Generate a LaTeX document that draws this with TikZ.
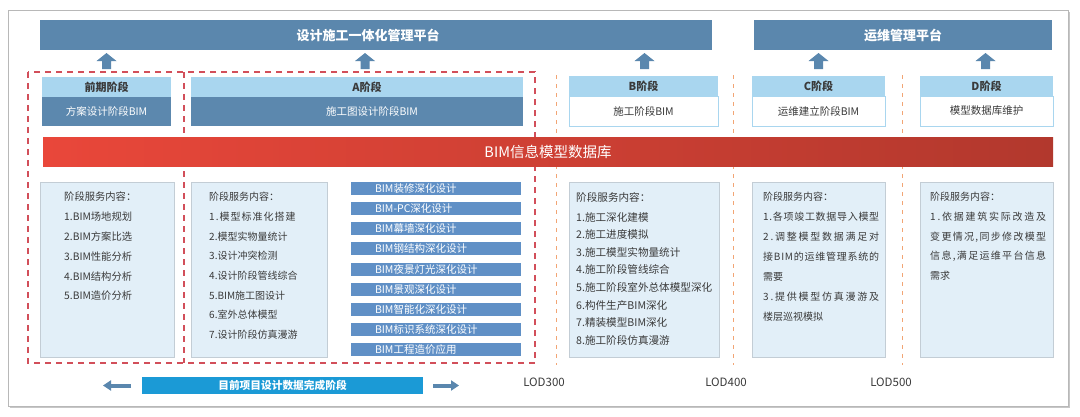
\documentclass[tikz,border=0pt]{standalone}
\usepackage{fontspec}
\setmainfont{Noto Sans CJK SC}
\newfontfamily\spacedA[LetterSpace=10]{Noto Sans CJK SC}
\usetikzlibrary{calc,arrows.meta}
\definecolor{platblue}{HTML}{5B87AD}
\definecolor{hdrblue}{HTML}{A9D6EF}
\definecolor{bodyblue}{HTML}{5C88AE}
\definecolor{listblue}{HTML}{6090C6}
\definecolor{panelfill}{HTML}{E2EFF8}
\definecolor{paneldraw}{HTML}{C3CDD5}
\definecolor{dashred}{HTML}{D24F5A}
\definecolor{dashorange}{HTML}{F2A574}
\definecolor{redL}{HTML}{E9473A}
\definecolor{redR}{HTML}{B2382D}
\definecolor{cyanbar}{HTML}{1B9AD6}
\definecolor{arrowblue}{HTML}{5A87AE}
\definecolor{txtdark}{HTML}{3A3A3A}
\definecolor{framegray}{HTML}{B8B8B8}
\ExplSyntaxOn
\NewDocumentCommand\spreadto{mm}{\makebox[#1][s]{\tl_map_inline:nn{#2}{##1\hfil}\unskip}}
\ExplSyntaxOff
\newcommand\rnode[7]{\node[#1,minimum width={#5-#3},minimum height={#6-#4}] (#2) at (#3,#4) {#7};}
\begin{document}
\begin{tikzpicture}[x=1pt,y=-1pt,
  rect/.style={rectangle,inner sep=0pt,outer sep=0pt,anchor=north west},
  plat/.style={rect,fill=platblue,text=white,font=\bfseries\fontsize{13}{15}\selectfont},
  hdr/.style={rect,fill=hdrblue,text=txtdark,font=\bfseries\fontsize{11}{13}\selectfont},
  bodyfill/.style={rect,fill=bodyblue,text=white,font=\fontsize{10.5}{12}\selectfont},
  bodywhite/.style={rect,fill=white,draw=hdrblue,line width=0.8pt,text=txtdark,font=\fontsize{10.5}{12}\selectfont},
  panel/.style={rect,fill=panelfill,draw=paneldraw,line width=0.6pt},
  ptext/.style={anchor=north west,inner sep=0pt,align=left,text=txtdark},
  listbar/.style={rect,fill=listblue,minimum width=170,minimum height=13,text width=122,inner xsep=24pt,align=left,text=white,font=\fontsize{10.5}{12}\selectfont},
  reddash/.style={draw=dashred,line width=1.2pt,dash pattern=on 6pt off 5pt},
  orangedash/.style={draw=dashorange,line width=1pt,dash pattern=on 4pt off 5pt},
  lod/.style={text=txtdark,font=\fontsize{11.5}{13}\selectfont,inner sep=0pt},
  blockarrow/.style={arrowblue,line width=4pt,-{Triangle[length=8pt,width=10pt]}},
  uparr/.pic={\fill[arrowblue] (-10,8)--(0,0)--(10,8)--(4.5,8)--(4.5,16)--(-4.5,16)--(-4.5,8)--cycle;}
]
\useasboundingbox (0,0) rectangle (1080,416);
\fill[white] (0,0) rectangle (1080,416);
% frame with shadow
\draw[black!22,line width=1.6pt] (9.5,407.5) -- (1069.5,407.5) -- (1069.5,11.5);
\draw[framegray,line width=0.8pt,fill=white] (8,10) rectangle (1068,406);

% platforms
\rnode{plat}{platA}{40}{20}{712}{50}{设计施工一体化管理平台\hspace*{16pt}}
\rnode{plat}{platB}{754}{20}{1052}{50}{运维管理平台}

% dashed frames
\draw[reddash] (28,72) rectangle (535,363);
\draw[reddash] (184,72) -- (184,363);
\foreach \xx/\nm in {556/o1,733/o2,902/o3} \draw[orangedash] (\xx,75) -- (\xx,365);

% stage headers and bodies
\rnode{hdr}{hP}{42}{77}{171}{97}{前期阶段}
\rnode{bodyfill}{bP}{42}{97}{171}{126}{方案设计阶段BIM}
\rnode{hdr}{hA}{191}{77}{523}{97}{\hspace*{20pt}A阶段}
\rnode{bodyfill}{bA}{191}{97}{523}{126}{\hspace*{30pt}施工图设计阶段BIM}
\rnode{hdr}{hB}{569}{76}{718}{96}{B阶段}
\rnode{bodywhite}{bB}{569}{96}{718}{126}{施工阶段BIM}
\rnode{hdr}{hC}{752}{76}{885}{96}{C阶段}
\rnode{bodywhite}{bC}{752}{96}{885}{126}{运维建立阶段BIM}
\rnode{hdr}{hD}{920}{76}{1053}{96}{D阶段}
\rnode{bodywhite}{bD}{920}{96}{1053}{126}{模型数据库维护}

% up arrows
\pic at ($(hP.north)+(0,-24)$) {uparr};
\pic at ($(hA.north)+(8,-24)$) {uparr};
\pic at ($(hB.north)+(1,-23)$) {uparr};
\pic at ($(hC.north)+(0,-23)$) {uparr};
\pic at ($(hD.north)+(-1,-23)$) {uparr};

% database bar
\rnode{rect,left color=redL,right color=redR,text=white,font=\fontsize{14.5}{16}\selectfont}{db}{43}{137}{1053}{166}{BIM信息模型数据库}

% panels
\rnode{panel}{p1}{40}{182}{174}{357}{}
\rnode{panel}{p2}{191}{182}{327}{357}{}
\rnode{panel}{pB}{569}{182}{719}{357}{}
\rnode{panel}{pC}{752}{182}{885}{357}{}
\rnode{panel}{pD}{920}{182}{1053}{357}{}

\node[ptext,font=\fontsize{10.3}{19.8}\selectfont] (t1) at ($(p1.north west)+(24,10)$)
 {阶段服务内容：\\1.BIM场地规划\\2.BIM方案比选\\3.BIM性能分析\\4.BIM结构分析\\5.BIM造价分析};
\node[ptext,font=\fontsize{10}{19.7}\selectfont] (t2) at ($(p2.north west)+(18,10)$)
 {阶段服务内容：\\\spacedA 1.模型标准化搭建\\2.模型实物量统计\\3.设计冲突检测\\4.设计阶段管线综合\\5.BIM施工图设计\\6.室外总体模型\\7.设计阶段仿真漫游};
\node[ptext,font=\fontsize{10.6}{17.6}\selectfont] (tB) at ($(pB.north west)+(7,10)$)
 {阶段服务内容：\\[2.4pt]1.施工深化建模\\2.施工进度模拟\\3.施工模型实物量统计\\4.施工阶段管线综合\\5.施工阶段室外总体模型深化\\6.构件生产BIM深化\\7.精装模型BIM深化\\8.施工阶段仿真漫游};
\node[ptext,font=\fontsize{10}{20}\selectfont] (tC) at ($(pC.north west)+(11,10)$)
 {阶段服务内容：\\\spreadto{116pt}{1.各项竣工数据导入模型}\\\spreadto{116pt}{2.调整模型数据满足对}\\\spreadto{116pt}{接BIM的运维管理系统的}\\需要\\\spreadto{116pt}{3.提供模型仿真漫游及}\\楼层巡视模拟};
\node[ptext,font=\fontsize{10}{19.7}\selectfont] (tD) at ($(pD.north west)+(10,10)$)
 {阶段服务内容：\\\spreadto{116pt}{1.依据建筑实际改造及}\\\spreadto{116pt}{变更情况,同步修改模型}\\\spreadto{116pt}{信息,满足运维平台信息}\\需求};

% list bars
\foreach \i/\txt in {0/BIM装修深化设计,1/BIM-PC深化设计,2/BIM幕墙深化设计,3/BIM钢结构深化设计,4/BIM夜景灯光深化设计,5/BIM景观深化设计,6/BIM智能化深化设计,7/BIM标识系统深化设计,8/BIM工程造价应用}
  \node[listbar] (lb\i) at (351,{182+20.125*\i}) {\txt};

% bottom bar and arrows
\rnode{rect,fill=cyanbar,text=white,font=\bfseries\fontsize{10.7}{12}\selectfont}{cur}{142}{377}{423}{394}{目前项目设计数据完成阶段}
\draw[blockarrow] ($(cur.west)+(-11,0)$) -- ($(cur.west)+(-39,0)$);
\draw[blockarrow] ($(cur.east)+(10,0)$) -- ($(cur.east)+(36,0)$);

% LOD labels
\node[lod] (lod3) at (544,382) {LOD300};
\node[lod] (lod4) at (726,382) {LOD400};
\node[lod] (lod5) at (891,382) {LOD500};
\end{tikzpicture}
\end{document}
